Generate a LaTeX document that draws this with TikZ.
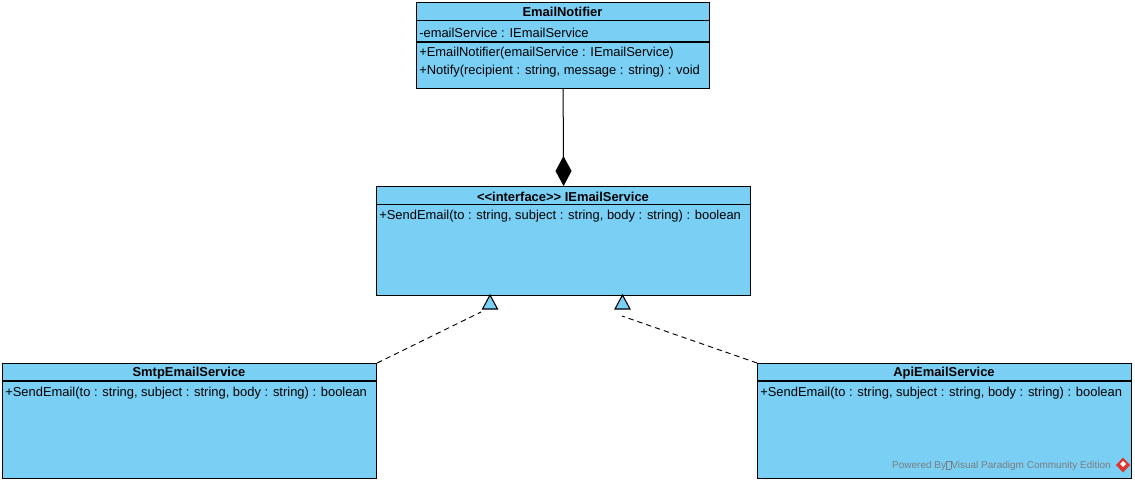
\documentclass[tikz,border=0pt]{standalone}
\usepackage{fontspec}
\setmainfont{Liberation Sans}
\usetikzlibrary{positioning,arrows.meta}
\definecolor{classblue}{RGB}{122,207,245}
\definecolor{wmgray}{RGB}{125,125,125}
\definecolor{vpred}{RGB}{222,52,44}
\newcommand{\wmbox}{{\fboxrule=0.3pt\fboxsep=0pt\fbox{\rule{0pt}{5.5pt}\hspace{3.4pt}}}}

\begin{document}
\begin{tikzpicture}[x=0.75pt,y=-0.75pt,
    classbox/.style 2 args={draw=black, line width=0.9pt, fill=classblue,
        anchor=north west, inner sep=0pt,
        minimum width=#1*0.75pt, minimum height=#2*0.75pt},
    title/.style={font=\fontsize{9.7}{11}\selectfont\bfseries, inner sep=0pt},
    member/.style={font=\fontsize{9.7}{11}\selectfont, anchor=west, inner sep=0pt},
    realize/.style={draw=black, line width=0.7pt, dash pattern=on 4pt off 3pt},
    watermark/.style={font=\fontsize{7.5}{9}\selectfont, text=wmgray, anchor=east, inner sep=0pt}]

    \useasboundingbox (0,0) rectangle (1135,482);

    % Draw the class boxes
    \node[classbox={293}{86}] (notifier) at (416,2) {};
    \node[classbox={374}{109}] (service) at (376,186) {};
    \node[classbox={374}{115}] (smtp) at (2,363) {};
    \node[classbox={374}{115}] (api) at (757,363) {};

    % Draw the compartment lines
    \draw[line width=0.8pt] (notifier.west |- 0,20.5) -- (notifier.east |- 0,20.5);
    \draw[line width=0.8pt] (notifier.west |- 0,42) -- (notifier.east |- 0,42);
    \draw[line width=0.8pt] (service.west |- 0,204.5) -- (service.east |- 0,204.5);
    \draw[line width=0.8pt] (smtp.west |- 0,381) -- (smtp.east |- 0,381);
    \draw[line width=0.8pt] (api.west |- 0,381) -- (api.east |- 0,381);

    % EmailNotifier
    \node[title] (notifierName) at (562.5,12) {EmailNotifier};
    \node[member] (notifierAttr) at (419,32.5) {-emailService : IEmailService};
    \node[member] (notifierCtor) at (419,53) {+EmailNotifier(emailService : IEmailService)};
    \node[member] (notifierNotify) at (419,71.5) {+Notify(recipient : string, message : string) : void};

    % IEmailService
    \node[title] (serviceName) at (563,196.5) {<\kern0pt<interface>\kern0pt> IEmailService};
    \node[member] (serviceSend) at (379,216) {+SendEmail(to : string, subject : string, body : string) : boolean};

    % SmtpEmailService and ApiEmailService
    \node[title] (smtpName) at (189,373.5) {SmtpEmailService};
    \node[member] (smtpSend) at (5,393.5) {+SendEmail(to : string, subject : string, body : string) : boolean};
    \node[title] (apiName) at (944,373.5) {ApiEmailService};
    \node[member] (apiSend) at (760,393.5) {+SendEmail(to : string, subject : string, body : string) : boolean};

    % Composition
    \draw[line width=0.75pt, -{Diamond[length=22.5pt,width=12pt]}] (notifier.south) -- (service.north);

    % Realizations
    \coordinate (tipSmtp) at (490,295);
    \coordinate (tailSmtp) at (481,312);
    \coordinate (tipApi) at (622.5,295);
    \coordinate (tailApi) at (622,316);
    \draw[realize] (smtp.north east) -- (tailSmtp);
    \draw[realize] (api.north west) -- (tailApi);
    \foreach \t in {tipSmtp,tipApi}{
        \filldraw[fill=classblue, line width=0.8pt, line join=miter] (\t) -- ++(7.5,14) -- ++(-15,0) -- cycle;
    }

    % Watermark
    \node[watermark] (poweredBy) at (1111,466) {Powered By\wmbox Visual Paradigm Community Edition};
    \fill[vpred] (1123,457.5) -- (1130,465) -- (1123,472.5) -- (1116,465) -- cycle;
    \fill[white] (1123,461) -- (1126,464) -- (1123,467) -- (1120,464) -- cycle;
\end{tikzpicture}
\end{document}
